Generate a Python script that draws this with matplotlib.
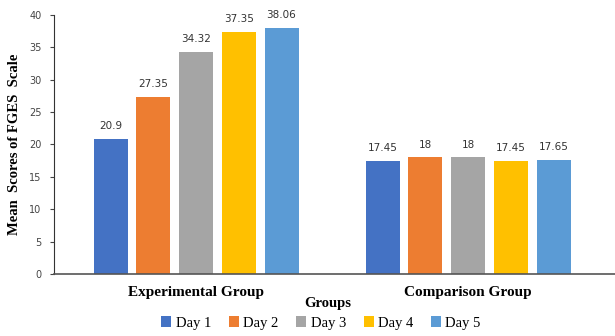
import matplotlib.pyplot as plt
import numpy as np

# mean FGES scores per group and day
groups = ["Experimental Group", "Comparison Group"]
days = ["Day 1", "Day 2", "Day 3", "Day 4", "Day 5"]
scores = {
    "Day 1": [20.9, 17.45],
    "Day 2": [27.35, 18],
    "Day 3": [34.32, 18],
    "Day 4": [37.35, 17.45],
    "Day 5": [38.06, 17.65],
}
colors = ["#4472C4", "#ED7D31", "#A5A5A5", "#FFC000", "#5B9BD5"]

fig = plt.figure(figsize=(6.15, 3.36), dpi=100)
ax = fig.add_axes([0.088, 0.185, 0.912, 0.77])

x = np.arange(len(groups))
width = 0.125
step = 0.157
for i, day in enumerate(days):
    pos = x + (i - 2) * step
    bars = ax.bar(pos, scores[day], width, color=colors[i], label=day)
    for b, v in zip(bars, scores[day]):
        ax.text(b.get_x() + b.get_width() / 2, v + 1.2, f"{v:g}",
                ha="center", va="bottom", fontsize=7.5, color="#333333",
                family="DejaVu Sans")

ax.set_xlim(-0.522, 1.54)
ax.set_ylim(0, 40)
ax.set_yticks(range(0, 41, 5))
ax.tick_params(axis="y", labelsize=7, length=3, colors="#444444", pad=6)
ax.tick_params(axis="x", length=0, pad=9)
ax.set_xticks(x)
ax.set_xticklabels(groups, family="Liberation Serif", fontweight="bold", fontsize=11)

for s in ["top", "right"]:
    ax.spines[s].set_visible(False)
ax.spines["left"].set_color("#333333")
ax.spines["bottom"].set_color("#555555")
ax.spines["bottom"].set_linewidth(1.2)

ax.set_ylabel("Mean  Scores of FGES  Scale", family="Liberation Serif",
              fontweight="bold", fontsize=10.5, labelpad=6)
ax.set_xlabel("Groups", family="Liberation Serif", fontweight="bold",
              fontsize=10.5)
ax.xaxis.set_label_coords(0.488, -0.088)

fig.legend(loc="lower center", bbox_to_anchor=(0.522, -0.02), ncol=5,
           frameon=False, prop={"family": "Liberation Serif", "size": 10.5},
           handlelength=0.7, handleheight=0.7, handletextpad=0.3,
           columnspacing=1.2)

fig.savefig("out.png", dpi=100)
